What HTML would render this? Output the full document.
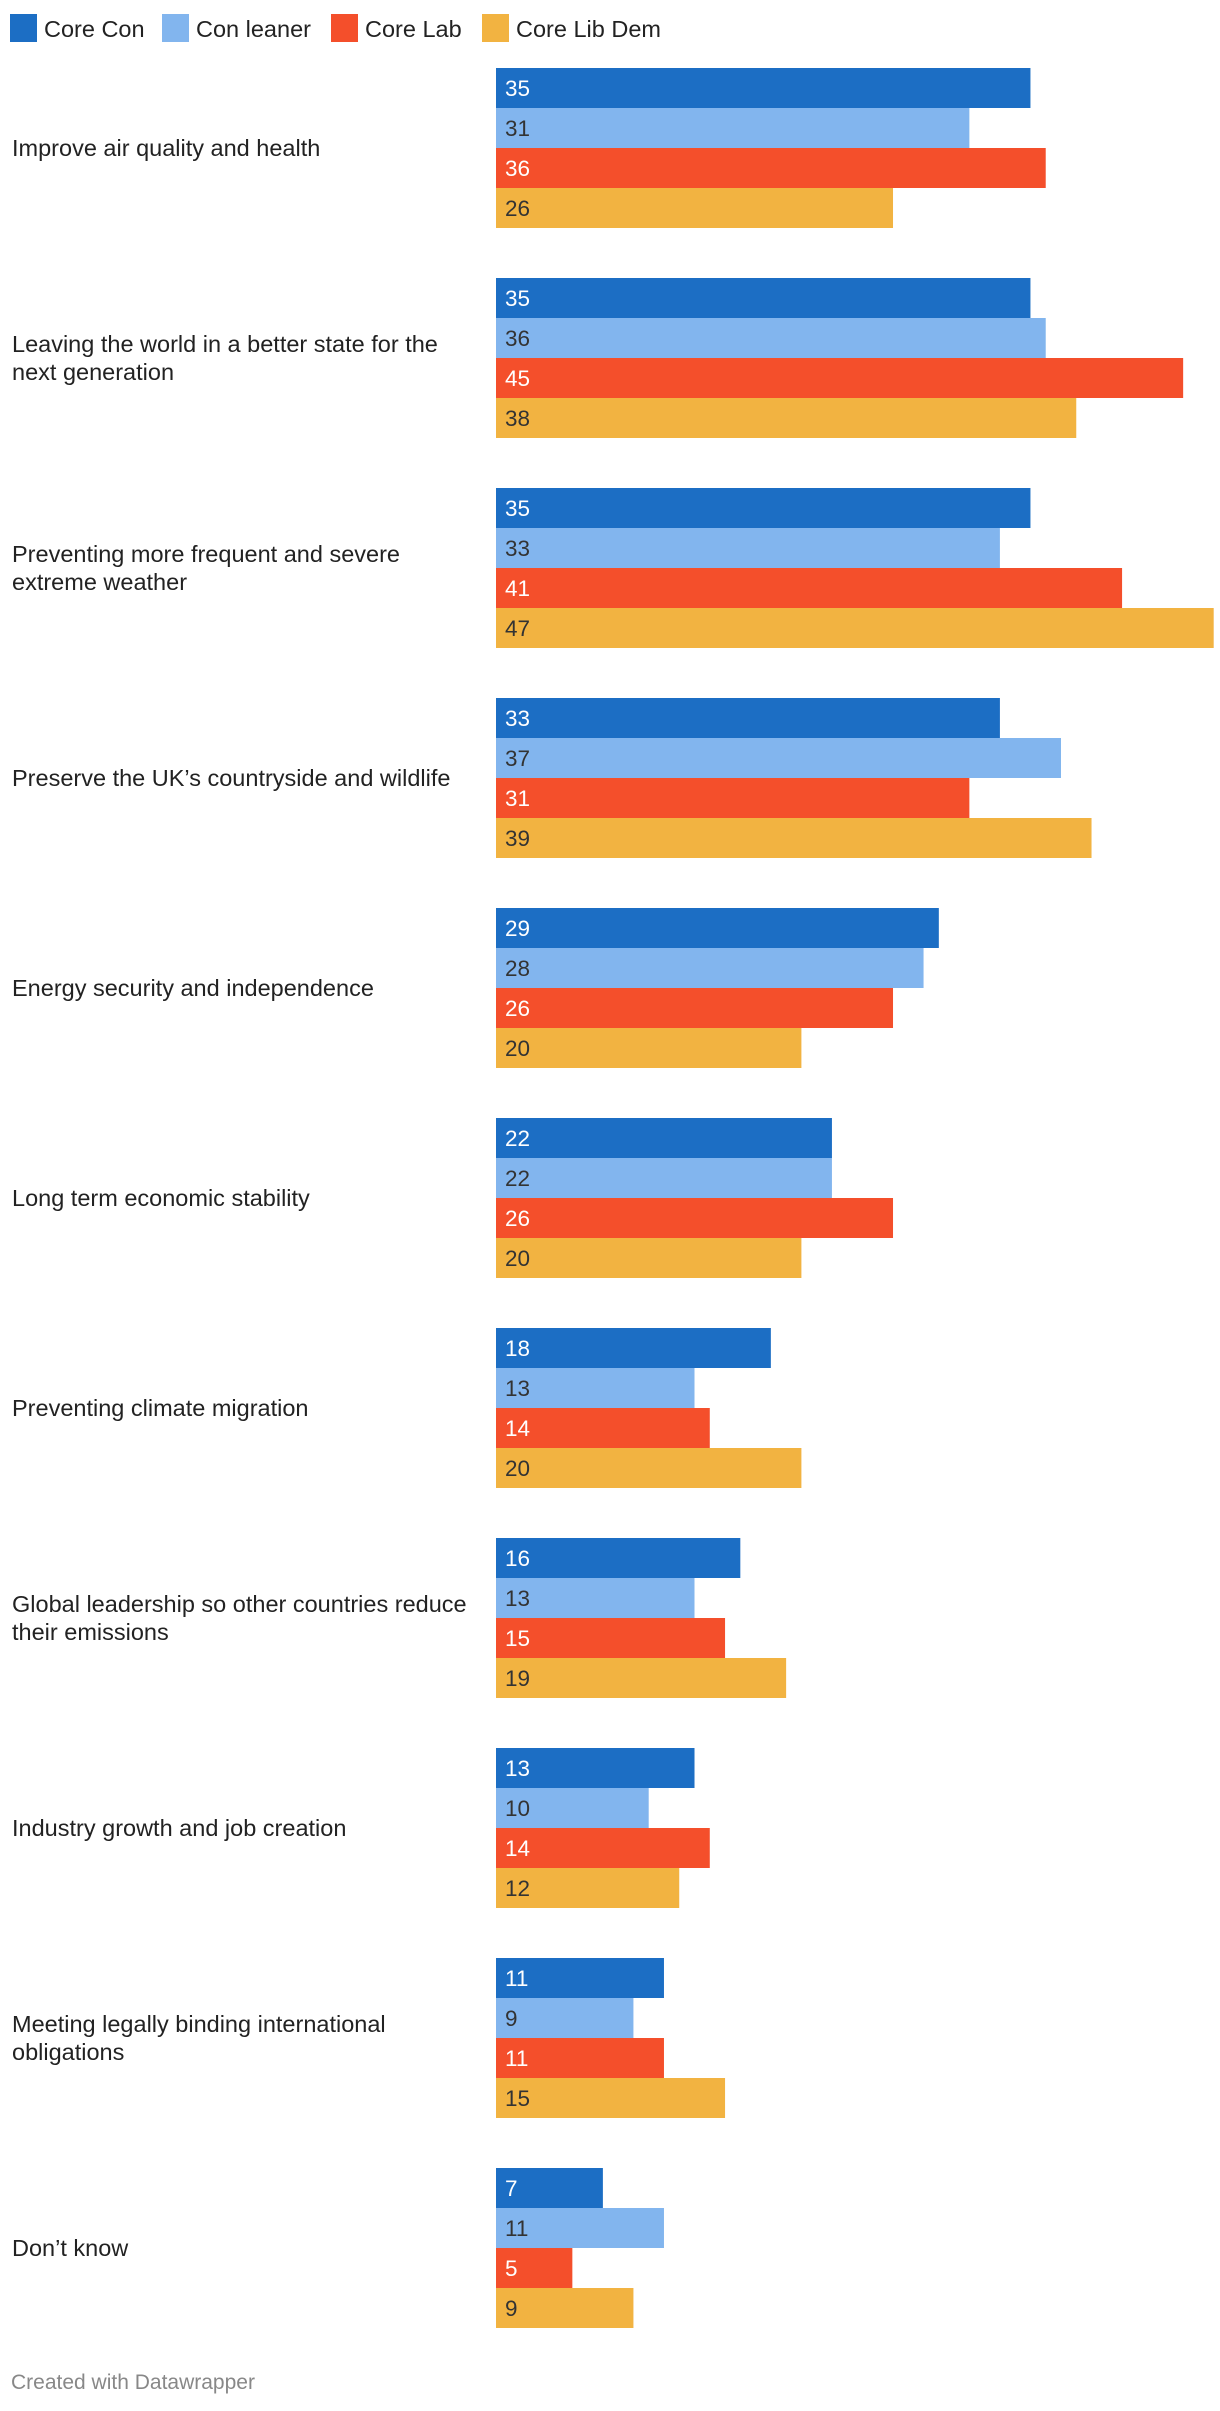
<!DOCTYPE html>
<html><head><meta charset="utf-8">
<style>
html,body{margin:0;padding:0;background:#fff;}
body{width:1220px;height:2406px;overflow:hidden;font-family:"Liberation Sans",sans-serif;}
svg text{font-family:"Liberation Sans",sans-serif;}
</style></head>
<body>
<svg id="chart" width="1220" height="2406" xmlns="http://www.w3.org/2000/svg">
  <g id="legend"></g>
  <g id="bars"></g>
  <g id="labels"></g>
  <text x="11" y="2389" font-size="21" fill="#888">Created with Datawrapper</text>
</svg>
<script>
const categories = [
  ["Improve air quality and health"],
  ["Leaving the world in a better state for the","next generation"],
  ["Preventing more frequent and severe","extreme weather"],
  ["Preserve the UK\u2019s countryside and wildlife"],
  ["Energy security and independence"],
  ["Long term economic stability"],
  ["Preventing climate migration"],
  ["Global leadership so other countries reduce","their emissions"],
  ["Industry growth and job creation"],
  ["Meeting legally binding international","obligations"],
  ["Don\u2019t know"]
];
const seriesNames = ["Core Con","Con leaner","Core Lab","Core Lib Dem"];
const coreCon   = [35,35,35,33,29,22,18,16,13,11,7];
const conLeaner = [31,36,33,37,28,22,13,13,10,9,11];
const coreLab   = [36,45,41,31,26,26,14,15,14,11,5];
const coreLibDem= [26,38,47,39,20,20,20,19,12,15,9];
const series = [coreCon, conLeaner, coreLab, coreLibDem];
const colors = ["#1c6ec4","#82b5ee","#f44f2b","#f2b341"];
const textColors = ["#fff","#333","#fff","#333"];

const NS = "http://www.w3.org/2000/svg";
const x0 = 496, unit = 15.27;
const xScale = v => x0 + v*unit;
const groupTop = i => 68 + i*210;
const barH = 40;
const barY = (i,s) => groupTop(i) + s*barH;

function mk(tag, attrs, parent){
  const el = document.createElementNS(NS, tag);
  for (const k in attrs) el.setAttribute(k, attrs[k]);
  parent.appendChild(el);
  return el;
}

const legend = document.getElementById('legend');
const legendX = [10,162,331,482];
seriesNames.forEach((n,s)=>{
  const r = mk('rect',{x:legendX[s],y:14,width:27,height:28,fill:colors[s]},legend);
  
  
  const t = mk('text',{x:legendX[s]+34,y:37,'font-size':23.5,fill:'#222'},legend);
  t.textContent = n;
  
  
});

const barsG = document.getElementById('bars');
const labelsG = document.getElementById('labels');
categories.forEach((lines,i)=>{
  const cy = groupTop(i) + 80;
  const lh = 28;
  const startY = cy - (lines.length-1)*lh/2 + 8;
  lines.forEach((ln,k)=>{
    const t = mk('text',{x:12,y:startY+k*lh,'font-size':23.5,fill:'#222'},labelsG);
    t.textContent = ln;
    
    
  });
  series.forEach((arr,s)=>{
    const v = arr[i];
    const r = mk('rect',{x:x0,y:barY(i,s),width:xScale(v)-x0,height:barH,fill:colors[s]},barsG);
    
    
    const t = mk('text',{x:x0+9,y:barY(i,s)+28,'font-size':22.5,fill:textColors[s]},barsG);
    t.textContent = String(v);
    
    
  });
});
</script>
</body></html>
